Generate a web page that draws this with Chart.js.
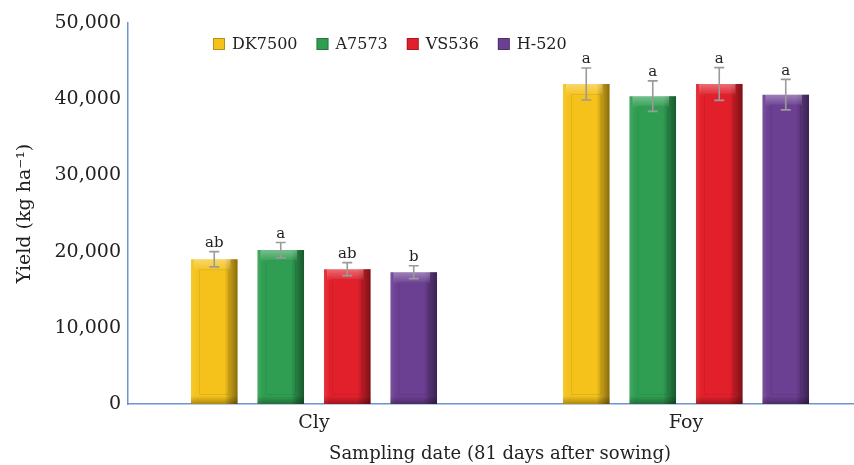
<!DOCTYPE html>
<html>
<head>
<meta charset="utf-8">
<script src="https://cdn.jsdelivr.net/npm/chart.js@4"></script>
<style>
  html, body { margin: 0; padding: 0; background: #fff; overflow: hidden; }
  #wrap { width: 880px; height: 465px; }
</style>
</head>
<body>
<div id="wrap"><canvas id="grafico1" width="880" height="465"></canvas></div>
<script>
// dados
const categories = ['Cly', 'Foy'];
const varieties = ['DK7500', 'A7573', 'VS536', 'H-520'];
const yTicks = [0, 10000, 20000, 30000, 40000, 50000];

const dk7500 = [19000, 42000];
const a7573 = [20200, 40400];
const vs536 = [17700, 42000];
const h520 = [17300, 40600];

const dk7500Err = [1000, 2100];
const a7573Err = [1000, 2000];
const vs536Err = [850, 2150];
const h520Err = [850, 2000];

const dk7500Let = ['ab', 'a'];
const a7573Let = ['a', 'a'];
const vs536Let = ['ab', 'a'];
const h520Let = ['b', 'a'];

const colors = ['#f5c21b', '#2f9e52', '#e2202b', '#6b3f92'];
const serif = '"DejaVu Serif", serif';

const series = [dk7500, a7573, vs536, h520];
const errs = [dk7500Err, a7573Err, vs536Err, h520Err];
const lets = [dk7500Let, a7573Let, vs536Let, h520Let];

// efeito de relevo nas barras + barras de erro + letras
const bevelPlugin = {
  id: 'bevel',
  afterDatasetsDraw(chart) {
    const ctx = chart.ctx;
    const yScale = chart.scales.y;
    chart.data.datasets.forEach((ds, di) => {
      const meta = chart.getDatasetMeta(di);
      meta.data.forEach((bar, i) => {
        const left = bar.x - bar.width / 2;
        const right = bar.x + bar.width / 2;
        const top = bar.y;
        const bottom = bar.base;
        const w = right - left;
        ctx.save();
        // sombra à direita
        let g = ctx.createLinearGradient(left, 0, right, 0);
        g.addColorStop(0, 'rgba(255,255,255,0.10)');
        g.addColorStop(0.12, 'rgba(255,255,255,0)');
        g.addColorStop(0.72, 'rgba(0,0,0,0)');
        g.addColorStop(0.82, 'rgba(0,0,0,0.18)');
        g.addColorStop(1, 'rgba(0,0,0,0.45)');
        ctx.fillStyle = g;
        ctx.fillRect(left, top, w, bottom - top);
        // topo claro
        let gt = ctx.createLinearGradient(0, top, 0, top + 12);
        gt.addColorStop(0, 'rgba(255,255,255,0.35)');
        gt.addColorStop(1, 'rgba(255,255,255,0)');
        ctx.fillStyle = gt;
        ctx.fillRect(left + 3, top, w - 10, 12);
        // base escura
        let gb = ctx.createLinearGradient(0, bottom - 8, 0, bottom);
        gb.addColorStop(0, 'rgba(0,0,0,0)');
        gb.addColorStop(1, 'rgba(0,0,0,0.3)');
        ctx.fillStyle = gb;
        ctx.fillRect(left, bottom - 8, w, 8);
        // contorno interno
        ctx.strokeStyle = 'rgba(0,0,0,0.08)';
        ctx.lineWidth = 1;
        ctx.strokeRect(left + 8.5, top + 10.5, w - 17, bottom - top - 20);
        ctx.restore();

        // barra de erro
        const v = series[di][i];
        const e = errs[di][i];
        const yHi = yScale.getPixelForValue(v + e);
        const yLo = yScale.getPixelForValue(v - e);
        ctx.save();
        ctx.strokeStyle = '#9a9a9a';
        ctx.lineWidth = 1.6;
        ctx.beginPath();
        ctx.moveTo(bar.x, yHi); ctx.lineTo(bar.x, yLo);
        ctx.moveTo(bar.x - 5, yHi); ctx.lineTo(bar.x + 5, yHi);
        ctx.moveTo(bar.x - 5, yLo); ctx.lineTo(bar.x + 5, yLo);
        ctx.stroke();
        // letra
        ctx.fillStyle = '#222';
        ctx.font = '15px ' + serif;
        ctx.textAlign = 'center';
        ctx.textBaseline = 'bottom';
        ctx.fillText(lets[di][i], bar.x, yHi - 1);
        ctx.restore();
      });
    });

    // legenda
    const area = chart.chartArea;
    let x = area.left + 85;
    const y = area.top + 21;
    ctx.save();
    ctx.font = '16px ' + serif;
    ctx.textBaseline = 'middle';
    ctx.textAlign = 'left';
    varieties.forEach((name, k) => {
      ctx.fillStyle = colors[k];
      ctx.fillRect(x, y - 6, 12, 12);
      ctx.strokeStyle = 'rgba(0,0,0,0.25)';
      ctx.strokeRect(x + 0.5, y - 5.5, 11, 11);
      ctx.fillStyle = '#222';
      ctx.fillText(name, x + 19, y + 1);
      x += 19 + ctx.measureText(name).width + 19;
    });
    ctx.restore();
  }
};

const ctx = document.getElementById('grafico1').getContext('2d');
let chart = new Chart(ctx, {
  type: 'bar',
  data: {
    labels: categories,
    datasets: varieties.map((name, k) => ({
      label: name,
      data: series[k],
      backgroundColor: colors[k],
      borderWidth: 0,
      categoryPercentage: 0.715,
      barPercentage: 0.7
    }))
  },
  options: {
    responsive: false,
    devicePixelRatio: 1,
    animation: false,
    layout: { padding: { top: 23, right: 8, left: 0, bottom: 0 } },
    plugins: {
      legend: { display: false },
      tooltip: { enabled: false }
    },
    scales: {
      x: {
        grid: { display: false, drawTicks: false },
        border: { color: '#7093d1', width: 1.5 },
        ticks: { color: '#222', font: { family: serif, size: 19 }, padding: 8 },
        title: {
          display: true,
          text: 'Sampling date (81 days after sowing)',
          color: '#222',
          font: { family: serif, size: 18 },
          padding: { top: 2, bottom: 0 }
        },
        afterFit(scale) { scale.height = 61; }
      },
      y: {
        min: 0,
        max: 50000,
        afterBuildTicks(scale) { scale.ticks = yTicks.map(v => ({ value: v })); },
        grid: { display: false, drawTicks: false },
        border: { color: '#7093d1', width: 1.5 },
        ticks: {
          color: '#222',
          font: { family: serif, size: 19 },
          padding: 7,
          callback: v => v.toLocaleString('en-US')
        },
        title: {
          display: true,
          text: 'Yield (kg ha\u207B\u00B9)',
          color: '#222',
          font: { family: serif, size: 19 },
          padding: { top: 14, bottom: 0 }
        },
        afterFit(scale) { scale.width = 128; }
      }
    }
  },
  plugins: [bevelPlugin]
});
</script>
</body>
</html>
